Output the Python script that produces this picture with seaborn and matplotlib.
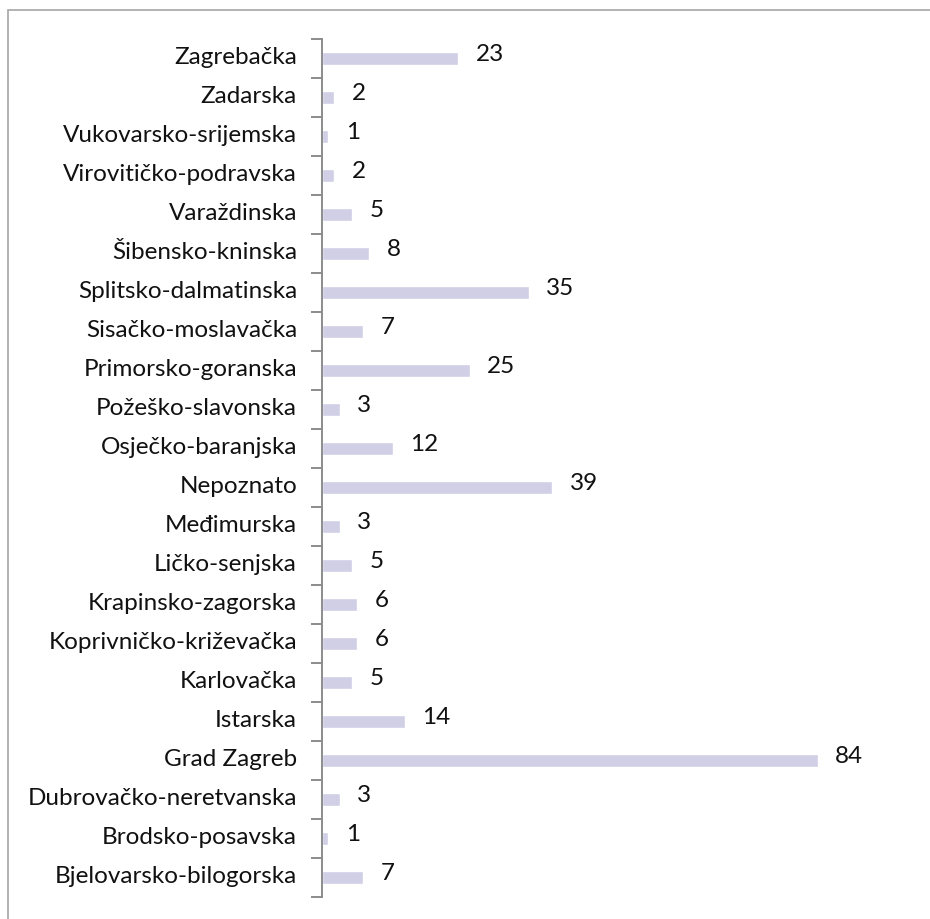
import numpy as np
import pandas as pd
import matplotlib
matplotlib.use("Agg")
import matplotlib.pyplot as plt
from matplotlib.patches import Rectangle
import seaborn as sns

counties = ["Zagrebačka", "Zadarska", "Vukovarsko-srijemska", "Virovitičko-podravska",
            "Varaždinska", "Šibensko-kninska", "Splitsko-dalmatinska", "Sisačko-moslavačka",
            "Primorsko-goranska", "Požeško-slavonska", "Osječko-baranjska", "Nepoznato",
            "Međimurska", "Ličko-senjska", "Krapinsko-zagorska", "Koprivničko-križevačka",
            "Karlovačka", "Istarska", "Grad Zagreb", "Dubrovačko-neretvanska",
            "Brodsko-posavska", "Bjelovarsko-bilogorska"]
counts = [23, 2, 1, 2, 5, 8, 35, 7, 25, 3, 12, 39, 3, 5, 6, 6, 5, 14, 84, 3, 1, 7]

df = pd.DataFrame({"county": counties, "count": counts})

sns.set_style("white")
plt.rcParams["font.family"] = ["Lato", "DejaVu Sans"]

fig = plt.figure(figsize=(9.3, 9.2), dpi=100)
# outer frame
fig.patches.append(Rectangle((8 / 930, -0.1), 1.2, (909 + 92) / 920, transform=fig.transFigure,
                             fill=False, edgecolor="#a6a6a6", linewidth=1.2, zorder=0))
ax = fig.add_axes([322 / 930, 22 / 920, 578 / 930, 858 / 920])

sns.barplot(data=df, x="count", y="county", color="#d0cfe6", width=0.34,
            saturation=1, ax=ax, orient="h")

ax.set_xlim(0, 578 / 5.9)
ax.set_ylim(len(counties) - 0.5, -0.5)
ax.set_xlabel("")
ax.set_ylabel("")
ax.set_xticks([])

for i, v in enumerate(counts):
    ax.text(v + 3.0, i - 0.14, str(v), va="center", ha="left", fontsize=17.5, color="#111111")

ax.set_yticks(np.arange(len(counties)) - 0.1)
ax.set_yticklabels(counties, fontsize=17.5, color="#111111")
ax.set_yticks(np.arange(len(counties) + 1) - 0.5, minor=True)
ax.tick_params(axis="y", which="major", length=0, pad=18)
ax.tick_params(axis="y", which="minor", length=8, width=1.4, color="#8c8c8c", left=True)

for s in ["top", "right", "bottom"]:
    ax.spines[s].set_visible(False)
ax.spines["left"].set_color("#8c8c8c")
ax.spines["left"].set_linewidth(1.4)

fig.savefig("out.png", dpi=100)
